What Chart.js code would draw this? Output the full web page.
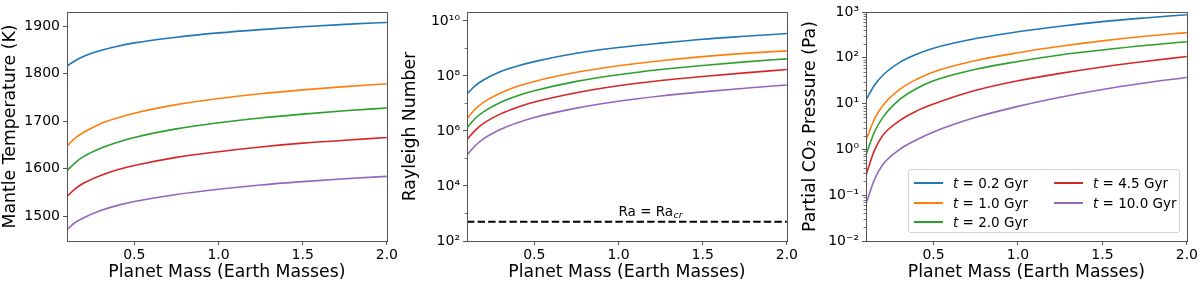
<!DOCTYPE html>
<html><head><meta charset="utf-8">
<script src="https://cdn.jsdelivr.net/npm/chart.js@4"></script>
<style>
html,body{margin:0;padding:0;background:#fff;width:1200px;height:286px;overflow:hidden;font-family:'DejaVu Sans';}
.p{position:absolute;top:0;width:400px;height:286px;}
#legend{position:absolute;left:908px;top:169px;width:272px;height:64px;box-sizing:border-box;border:1px solid #d3d3d3;border-radius:3px;background:rgba(255,255,255,0.8);font:13.5px 'DejaVu Sans';color:#000;}
.item{position:absolute;height:16px;line-height:16px;white-space:nowrap;}
.item .l{display:inline-block;width:29px;height:2px;vertical-align:middle;margin-right:10px;position:relative;top:-1px;}
</style></head>
<body>
<div class="p" style="left:0"><canvas id="c1" width="400" height="286"></canvas></div>
<div class="p" style="left:400px"><canvas id="c2" width="400" height="286"></canvas></div>
<div class="p" style="left:800px"><canvas id="c3" width="400" height="286"></canvas></div>
<div id="legend"></div>
<script>
// ---------- data ----------
const masses = [0.1, 0.15, 0.2, 0.3, 0.4, 0.5, 0.75, 1.0, 1.25, 1.5, 1.75, 2.0];
const ageLabels = ['0.2', '1.0', '2.0', '4.5', '10.0'];
const seriesColors = ['#1f77b4', '#ff7f0e', '#2ca02c', '#d62728', '#9467bd'];

// Mantle temperature (K)
const temp_t02  = [1816, 1828, 1837, 1849, 1858, 1865, 1877, 1886, 1893, 1899, 1904, 1908];
const temp_t10  = [1648, 1665, 1677, 1695, 1707, 1717, 1735, 1748, 1758, 1766, 1773, 1779];
const temp_t20  = [1596, 1613, 1626, 1643, 1656, 1666, 1684, 1697, 1707, 1715, 1722, 1728];
const temp_t45  = [1542, 1558, 1570, 1586, 1598, 1607, 1624, 1636, 1646, 1654, 1660, 1666];
const temp_t100 = [1472, 1487, 1497, 1512, 1523, 1531, 1546, 1557, 1566, 1573, 1579, 1584];

// Rayleigh number
const ra_t02  = [2.24e7, 4.47e7, 7.24e7, 1.45e8, 2.29e8, 3.31e8, 6.61e8, 1.07e9, 1.55e9, 2.14e9, 2.75e9, 3.47e9];
const ra_t10  = [2.82e6, 6.31e6, 1.12e7, 2.40e7, 4.17e7, 6.31e7, 1.35e8, 2.34e8, 3.55e8, 5.01e8, 6.61e8, 8.13e8];
const ra_t20  = [1.32e6, 2.88e6, 5.01e6, 1.10e7, 1.91e7, 2.88e7, 6.31e7, 1.10e8, 1.70e8, 2.40e8, 3.24e8, 4.17e8];
const ra_t45  = [4.90e5, 1.07e6, 1.91e6, 4.17e6, 7.24e6, 1.12e7, 2.45e7, 4.37e7, 6.76e7, 9.55e7, 1.29e8, 1.70e8];
const ra_t100 = [1.32e5, 2.95e5, 5.25e5, 1.15e6, 2.00e6, 3.09e6, 6.76e6, 1.20e7, 1.86e7, 2.63e7, 3.55e7, 4.68e7];
const raCritical = 500;

// Partial CO2 pressure (Pa)
const pco2_t02  = [12.0, 25.1, 41.7, 79.4, 120, 162, 263, 372, 490, 617, 741, 871];
const pco2_t10  = [1.58, 4.57, 9.12, 20.4, 33.9, 49.0, 87.1, 129, 178, 234, 295, 355];
const pco2_t20  = [0.759, 2.40, 5.01, 12.3, 21.4, 31.6, 56.2, 83.2, 115, 148, 186, 224];
const pco2_t45  = [0.275, 0.955, 2.04, 4.27, 6.92, 9.77, 19.5, 31.6, 45.7, 63.1, 83.2, 107];
const pco2_t100 = [0.0646, 0.219, 0.468, 1.0, 1.62, 2.40, 5.01, 8.71, 13.8, 20.4, 28.2, 37.2];

// ticks
const xTicks = [0.5, 1.0, 1.5, 2.0];
const tempTicks = [1500, 1600, 1700, 1800, 1900];
const raTicks = [1e2, 1e4, 1e6, 1e8, 1e10];
const raMinorTicks = [1e3, 1e5, 1e7, 1e9];
const pTicks = [1e-2, 1e-1, 1e0, 1e1, 1e2, 1e3];

// ---------- helpers ----------
const FONT = "'DejaVu Sans', sans-serif";
const EDGE = '#555';
const supMap = {'-':'\u207B','0':'\u2070','1':'\u00B9','2':'\u00B2','3':'\u00B3','4':'\u2074','5':'\u2075','6':'\u2076','7':'\u2077','8':'\u2078','9':'\u2079'};
function pow10Label(v){ const e = Math.round(Math.log10(v)); return '10' + String(e).split('').map(c => supMap[c]).join(''); }
function pts(ys){ return masses.map((m, i) => ({x: m, y: ys[i]})); }
function lineSet(label, ys, color){
  return {label, data: pts(ys), borderColor: color, backgroundColor: color, borderWidth: 1.6,
          pointRadius: 0, cubicInterpolationMode: 'monotone', fill: false};
}
function ticksSetter(list){ return s => { s.ticks = list.map(v => ({value: v})); }; }

const framePlugin = {
  id: 'frame',
  afterDraw(chart){
    const a = chart.chartArea, c = chart.ctx;
    c.save(); c.strokeStyle = EDGE; c.lineWidth = 1;
    c.strokeRect(Math.round(a.left) + 0.5, Math.round(a.top) + 0.5, Math.round(a.right - a.left), Math.round(a.bottom - a.top));
    c.restore();
  }
};
const minorTickPlugin = {
  id: 'minorTicks',
  afterDraw(chart, args, opts){
    if (!opts || !opts.values) return;
    const y = chart.scales.y, c = chart.ctx, left = Math.round(chart.chartArea.left);
    c.save(); c.strokeStyle = EDGE; c.lineWidth = 0.8;
    opts.values.forEach(v => {
      if (v < y.min || v > y.max) return;
      const py = Math.round(y.getPixelForValue(v)) + 0.5;
      c.beginPath(); c.moveTo(left - 2.5, py); c.lineTo(left, py); c.stroke();
    });
    c.restore();
  }
};
const raLabelPlugin = {
  id: 'raLabel',
  afterDatasetsDraw(chart, args, opts){
    if (!opts || !opts.text) return;
    const c = chart.ctx;
    const px = chart.scales.x.getPixelForValue(opts.x);
    const py = chart.scales.y.getPixelForValue(opts.y) - 6;
    c.save(); c.fillStyle = '#000'; c.textBaseline = 'alphabetic'; c.textAlign = 'left';
    c.font = '13.5px ' + FONT;
    c.fillText(opts.text, px, py);
    const w = c.measureText(opts.text).width;
    c.font = 'italic 9.5px ' + FONT;
    c.fillText(opts.sub, px + w + 0.5, py + 2.5);
    c.restore();
  }
};
Chart.register(framePlugin, minorTickPlugin, raLabelPlugin);
Chart.defaults.font.family = FONT;
Chart.defaults.color = '#000';

function makeChart(id, datasets, yCfg, yTitle, padRight, yWidth, plugins){
  return new Chart(document.getElementById(id), {
    type: 'line',
    data: {datasets},
    options: {
      responsive: false, animation: false, devicePixelRatio: 1,
      layout: {padding: {left: 0, top: 12, right: padRight, bottom: 0}},
      plugins: Object.assign({legend: {display: false}, tooltip: {enabled: false}}, plugins || {}),
      scales: {
        x: {
          type: 'linear', min: 0.1, max: 2.0,
          afterBuildTicks: ticksSetter(xTicks),
          afterFit: s => { s.height = 45; },
          grid: {drawOnChartArea: false, drawTicks: true, tickLength: 4, tickColor: EDGE, tickWidth: 1},
          border: {display: false},
          ticks: {font: {size: 14}, color: '#000', padding: 2, maxRotation: 0, autoSkip: false,
                  callback: v => Number(v).toFixed(1)},
          title: {display: true, text: 'Planet Mass (Earth Masses)', font: {size: 17.3}, color: '#000', padding: {top: 0, bottom: 3}}
        },
        y: Object.assign({
          afterFit: s => { s.width = yWidth; },
          grid: {drawOnChartArea: false, drawTicks: true, tickLength: 4, tickColor: EDGE, tickWidth: 1},
          border: {display: false},
          title: {display: true, text: yTitle, font: {size: 17.3}, color: '#000', padding: {top: 0, bottom: 0}}
        }, yCfg)
      }
    }
  });
}

// ---------- chart 1: temperature ----------
const tempSeries = [temp_t02, temp_t10, temp_t20, temp_t45, temp_t100];
makeChart('c1', tempSeries.map((s, i) => lineSet('t = ' + ageLabels[i] + ' Gyr', s, seriesColors[i])), {
  type: 'linear', min: 1448, max: 1930,
  afterBuildTicks: ticksSetter(tempTicks),
  ticks: {font: {size: 14}, color: '#000', padding: 3, autoSkip: false, callback: v => String(v)}
}, 'Mantle Temperature (K)', 11, 67);

// ---------- chart 2: Rayleigh ----------
const raSeries = [ra_t02, ra_t10, ra_t20, ra_t45, ra_t100];
const raSets = raSeries.map((s, i) => lineSet('t = ' + ageLabels[i] + ' Gyr', s, seriesColors[i]));
raSets.push({label: 'Ra = Ra_cr', data: pts(masses.map(() => raCritical)), borderColor: '#000', borderWidth: 2,
             borderDash: [7.4, 3.2], pointRadius: 0, fill: false});
makeChart('c2', raSets, {
  type: 'logarithmic', min: 1e2, max: 2.1e10,
  afterBuildTicks: ticksSetter(raTicks),
  ticks: {font: {size: 14}, color: '#000', padding: 3, autoSkip: false, callback: v => pow10Label(v)}
}, 'Rayleigh Number', 13, 67, {
  minorTicks: {values: raMinorTicks},
  raLabel: {x: 1.0, y: raCritical, text: 'Ra = Ra', sub: 'cr'}
});

// ---------- chart 3: pCO2 ----------
const pSeries = [pco2_t02, pco2_t10, pco2_t20, pco2_t45, pco2_t100];
const pMinor = [];
pTicks.slice(0, -1).forEach(d => { for (let k = 2; k <= 9; k++) pMinor.push(d * k); });
makeChart('c3', pSeries.map((s, i) => lineSet('t = ' + ageLabels[i] + ' Gyr', s, seriesColors[i])), {
  type: 'logarithmic', min: 1e-2, max: 1e3,
  afterBuildTicks: ticksSetter(pTicks),
  ticks: {font: {size: 14}, color: '#000', padding: 3, autoSkip: false, callback: v => pow10Label(v)}
}, 'Partial CO\u2082 Pressure (Pa)', 13, 66, {
  minorTicks: {values: pMinor}
});

// ---------- legend (built from the series names/colours) ----------
const legend = document.getElementById('legend');
const rowsPerCol = 3;
ageLabels.forEach((a, i) => {
  const col = Math.floor(i / rowsPerCol), row = i % rowsPerCol;
  const d = document.createElement('div');
  d.className = 'item';
  d.style.left = (5 + col * 140) + 'px';
  d.style.top = (5 + row * 19.7) + 'px';
  d.innerHTML = '<span class="l" style="background:' + seriesColors[i] + '"></span><i>t</i> = ' + a + ' Gyr';
  legend.appendChild(d);
});
</script>
</body></html>
